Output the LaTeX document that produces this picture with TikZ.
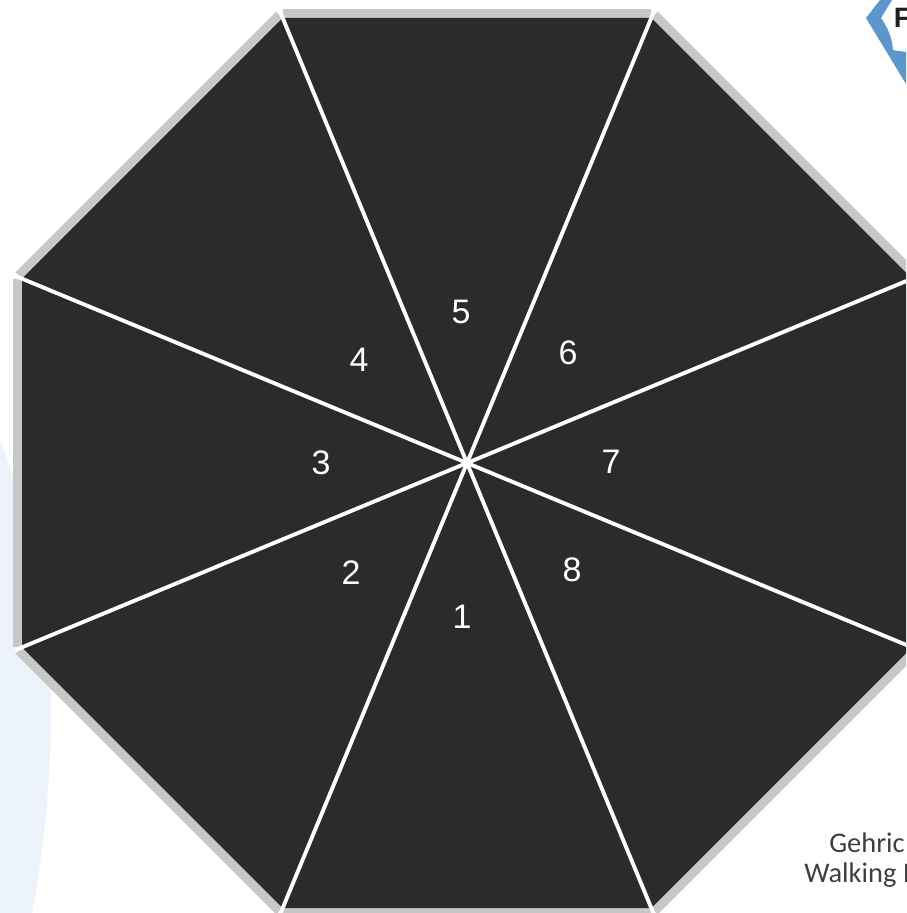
\documentclass[tikz,border=0pt]{standalone}
\usepackage{fontspec}
\usetikzlibrary{calc}
\setmainfont{Liberation Sans}
\newfontfamily\labelfont{Carlito}
\definecolor{octfill}{HTML}{2D2B29}
\definecolor{rimgray}{HTML}{C6C8C6}
\definecolor{paleblue}{HTML}{EDF3FB}
\definecolor{ribbon}{HTML}{5B96CF}
\definecolor{captiongray}{HTML}{3F3F3F}
\tikzset{
  x=0.75pt,y=-0.75pt,
  rim/.style={draw=rimgray,line width=6.75pt,line cap=butt},
  spoke/.style={draw=white,line width=2.9pt,line cap=butt},
  wedgenum/.style={font=\fontsize{25.5}{28}\selectfont,text=white,inner sep=0pt},
  caption/.style={font=\labelfont\fontsize{21.3}{24}\selectfont,text=captiongray,inner sep=0pt,anchor=base west}
}
\begin{document}
\begin{tikzpicture}
\useasboundingbox (0,0) rectangle (906,913);
\clip (0,0) rectangle (906,913);
% pale background
\fill[paleblue] (0,440) .. controls (35,530) and (50,620) .. (51,700) .. controls (52,780) and (42,860) .. (32,913) -- (0,913) -- cycle;
% ribbon
\fill[ribbon] (880,0) -- (866,18) -- (906,84) -- (906,52) .. controls (900,51) and (896,51) .. (893,50) .. controls (892,38) and (888,28) .. (881,18) -- (892,0) -- cycle;
\node[font=\bfseries\fontsize{21}{24}\selectfont,text=black!88,anchor=base west,inner sep=0pt] (ftext) at (893.5,28) {F};
% corners
\coordinate (c) at (467,463);
\coordinate (A) at (282.7,18);
\coordinate (B) at (651.3,18);
\coordinate (C) at (912,278.7);
\coordinate (D) at (912,647.3);
\coordinate (E) at (651.3,908);
\coordinate (F) at (282.7,908);
\coordinate (G) at (22,647.3);
\coordinate (H) at (22,278.7);
% rim sides, offset outward
\draw[rim] (282.7,13.5) -- (651.3,13.5);
\draw[rim] (654.5,14.8) -- (915.2,275.5);
\draw[rim] (916.5,278.7) -- (916.5,647.3);
\draw[rim] (915.2,650.5) -- (654.5,911.2);
\draw[rim] (651.3,912.5) -- (282.7,912.5);
\draw[rim] (279.5,911.2) -- (18.8,650.5);
\draw[rim] (17.5,647.3) -- (17.5,278.7);
\draw[rim] (18.8,275.5) -- (279.5,14.8);
% body
\fill[octfill] (A) -- (B) -- (C) -- (D) -- (E) -- (F) -- (G) -- (H) -- cycle;
% spokes
\draw[spoke] ($(c)!1.015!(A)$) -- ($(c)!1.015!(E)$);
\draw[spoke] ($(c)!1.015!(B)$) -- ($(c)!1.015!(F)$);
\draw[spoke] ($(c)!1.015!(C)$) -- ($(c)!1.015!(G)$);
\draw[spoke] ($(c)!1.015!(D)$) -- ($(c)!1.015!(H)$);
% labels
\node[wedgenum] (n1) at (462,617) {1};
\node[wedgenum] (n2) at (351,573) {2};
\node[wedgenum] (n3) at (321,463) {3};
\node[wedgenum] (n4) at (359,360) {4};
\node[wedgenum] (n5) at (461,312) {5};
\node[wedgenum] (n6) at (568,353) {6};
\node[wedgenum] (n7) at (611,462) {7};
\node[wedgenum] (n8) at (572,570) {8};
\node[caption] (cap1) at (829,852) {Gehric};
\node[caption] (cap2) at (804,882) {Walking I};
\end{tikzpicture}
\end{document}
